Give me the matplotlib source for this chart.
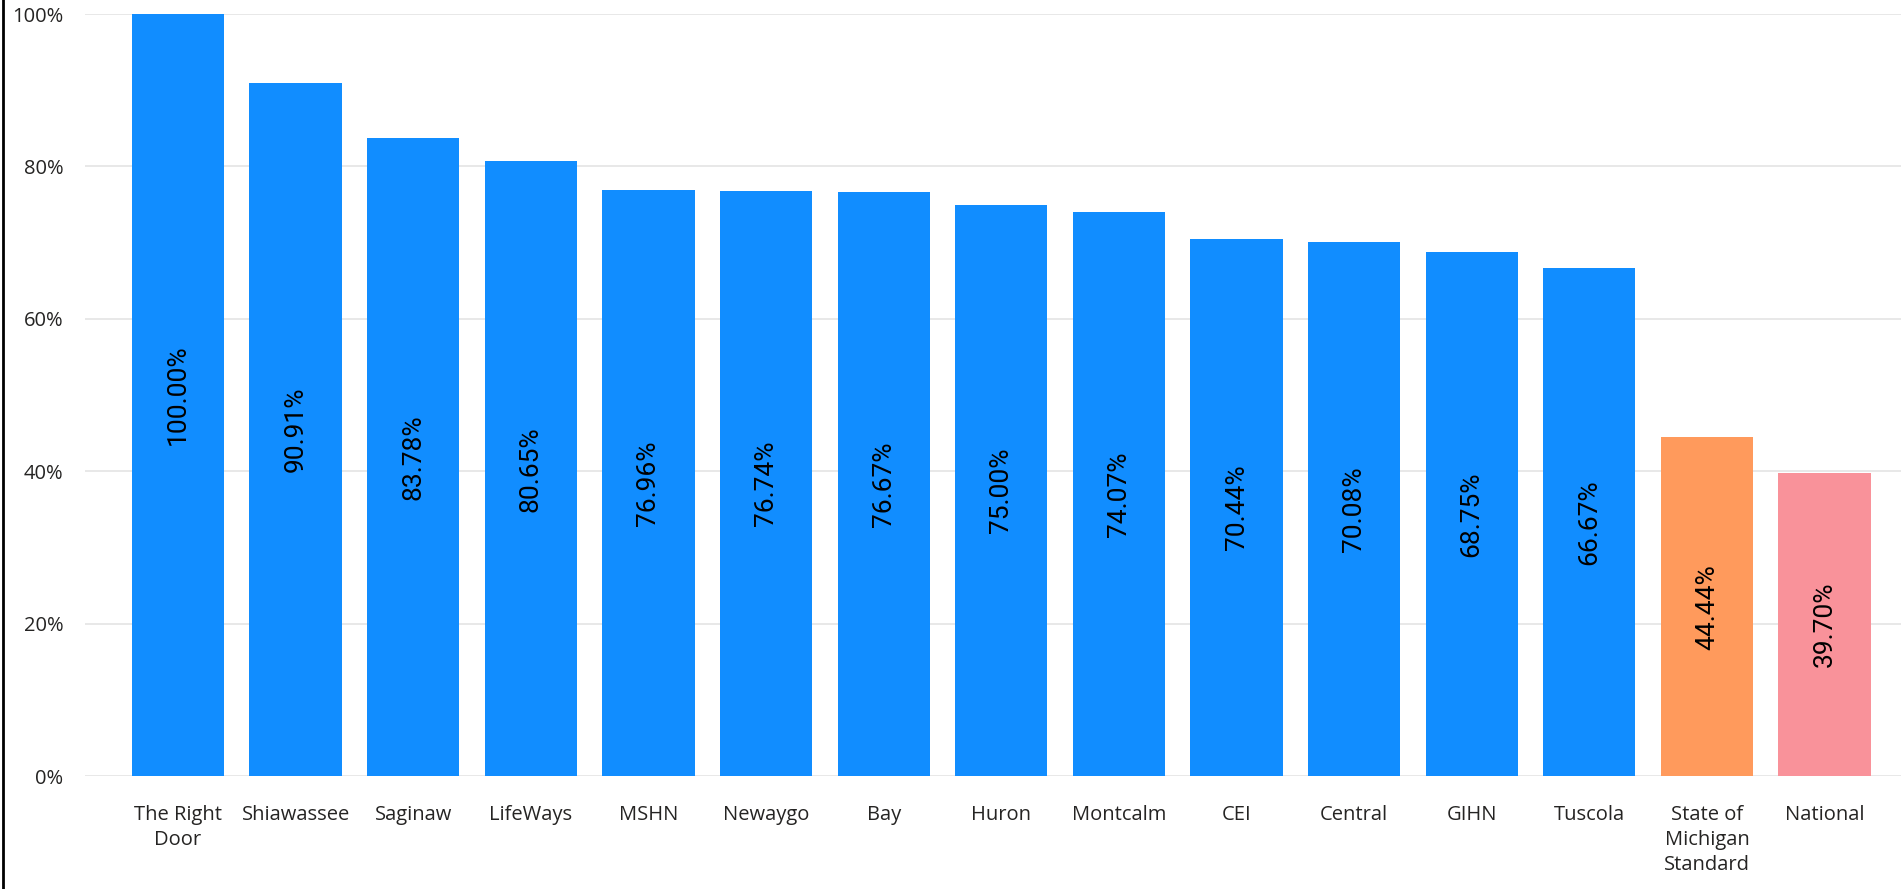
import matplotlib
matplotlib.use("Agg")
import matplotlib.pyplot as plt
from matplotlib.lines import Line2D

categories = ["The Right\nDoor", "Shiawassee", "Saginaw", "LifeWays", "MSHN", "Newaygo",
              "Bay", "Huron", "Montcalm", "CEI", "Central", "GIHN", "Tuscola",
              "State of\nMichigan\nStandard", "National"]
values = [100.00, 90.91, 83.78, 80.65, 76.96, 76.74, 76.67, 75.00, 74.07, 70.44,
          70.08, 68.75, 66.67, 44.44, 39.70]
bar_colors = ["#118DFF"] * 13 + ["#FF9A5C", "#F9929A"]
y_ticks = [0, 20, 40, 60, 80, 100]
y_tick_labels = ["0%", "20%", "40%", "60%", "80%", "100%"]

W, H = 1901, 889
fig = plt.figure(figsize=(W / 100, H / 100), dpi=100)
ax = fig.add_axes([85 / W, (H - 776) / H, 1 - 85 / W, (776 - 14) / H])

x = list(range(len(categories)))
ax.bar(x, values, width=0.785, color=bar_colors, zorder=2)

ax.set_xlim(-0.791, 14.65)
ax.set_ylim(0, 100)
ax.set_yticks(y_ticks)
ax.set_yticklabels(y_tick_labels)
ax.set_xticks(x)
ax.set_xticklabels(categories, linespacing=1.32)
ax.grid(axis="y", color="#E6E6E6", linewidth=1.3, zorder=0)
ax.set_axisbelow(True)
for s in ax.spines.values():
    s.set_visible(False)
ax.tick_params(axis="both", length=0, labelsize=14.5, labelcolor="#252423",
               labelfontfamily="Open Sans")
ax.tick_params(axis="y", pad=15.5)
ax.tick_params(axis="x", pad=21)

for xi, v in zip(x, values):
    ax.text(xi, v / 2, f"{v:.2f}%", rotation=90, ha="center", va="center",
            fontsize=19, color="#000000", family="Roboto", zorder=3)

fig.add_artist(Line2D([2.5 / W, 2.5 / W], [0, 1], color="#000000", linewidth=2,
                      transform=fig.transFigure))

fig.savefig("out.png", dpi=100, facecolor="white")
